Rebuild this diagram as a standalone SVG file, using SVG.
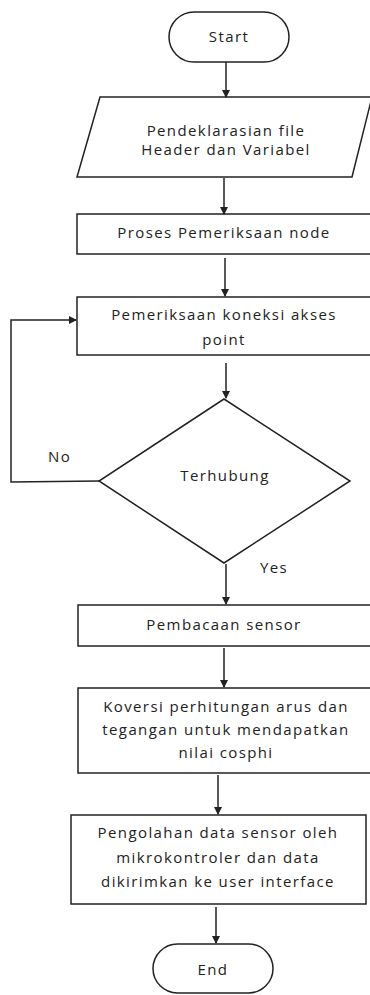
<svg xmlns="http://www.w3.org/2000/svg" width="370" height="995" viewBox="0 0 370 995">
<style>
.s{fill:#fff;stroke:#222;stroke-width:1.5}
.t{font-family:"Open Sans","DejaVu Sans",sans-serif;font-size:15px;letter-spacing:1.4px;fill:#222;text-anchor:middle}
.l{font-family:"Open Sans","DejaVu Sans",sans-serif;font-size:15px;letter-spacing:1.4px;fill:#222}
.c{fill:none;stroke:#222;stroke-width:1.5}
</style>
<defs>
<marker id="a" markerWidth="8" markerHeight="8" refX="7" refY="4" orient="auto" markerUnits="userSpaceOnUse">
<path d="M0,0 L8,4 L0,8 Z" fill="#222"/>
</marker>
</defs>
<rect width="370" height="995" fill="#fff"/>
<g id="start"><rect class="s" x="169" y="12" width="120" height="50" rx="25"/><text class="t" x="229" y="42">Start</text></g>
<g id="decl"><polygon class="s" points="100,97 372,97 352,177 77,177"/><text class="t" x="226" y="136">Pendeklarasian file</text><text class="t" x="226" y="155">Header dan Variabel</text></g>
<g id="proses"><rect class="s" x="77" y="214" width="300" height="40"/><text class="t" x="224" y="238">Proses Pemeriksaan node</text></g>
<g id="koneksi"><rect class="s" x="77" y="297" width="300" height="58"/><text class="t" x="224" y="320">Pemeriksaan koneksi akses</text><text class="t" x="224" y="345">point</text></g>
<g id="terhubung"><polygon class="s" points="224,399 350,481 224,563 99,481"/><text class="t" x="225" y="481">Terhubung</text></g>
<g id="baca"><rect class="s" x="78" y="605" width="300" height="41"/><text class="t" x="224" y="630">Pembacaan sensor</text></g>
<g id="konversi"><rect class="s" x="78" y="688" width="300" height="85"/><text class="t" x="226" y="712">Koversi perhitungan arus dan</text><text class="t" x="226" y="735">tegangan untuk mendapatkan</text><text class="t" x="226" y="758">nilai cosphi</text></g>
<g id="olah"><rect class="s" x="71" y="815" width="295" height="89"/><text class="t" x="218" y="838">Pengolahan data sensor oleh</text><text class="t" x="218" y="863">mikrokontroler dan data</text><text class="t" x="218" y="887">dikirimkan ke user interface</text></g>
<g id="end"><rect class="s" x="153" y="944" width="120" height="49" rx="24.5"/><text class="t" x="213" y="975">End</text></g>
<g id="connectors">
<line class="c" x1="226" y1="62" x2="226" y2="97" marker-end="url(#a)"/>
<line class="c" x1="224" y1="178" x2="224" y2="214" marker-end="url(#a)"/>
<line class="c" x1="225" y1="258" x2="225" y2="296" marker-end="url(#a)"/>
<line class="c" x1="226" y1="363" x2="226" y2="398" marker-end="url(#a)"/>
<polyline class="c" points="99,481 11,482 11,320 76,320" marker-end="url(#a)"/>
<line class="c" x1="226" y1="564" x2="226" y2="604" marker-end="url(#a)"/>
<line class="c" x1="224" y1="648" x2="224" y2="687" marker-end="url(#a)"/>
<line class="c" x1="218" y1="775" x2="218" y2="814" marker-end="url(#a)"/>
<line class="c" x1="216" y1="907" x2="216" y2="943" marker-end="url(#a)"/>
<text class="l" x="48" y="462">No</text>
<text class="l" x="260" y="573">Yes</text>
</g>
</svg>
